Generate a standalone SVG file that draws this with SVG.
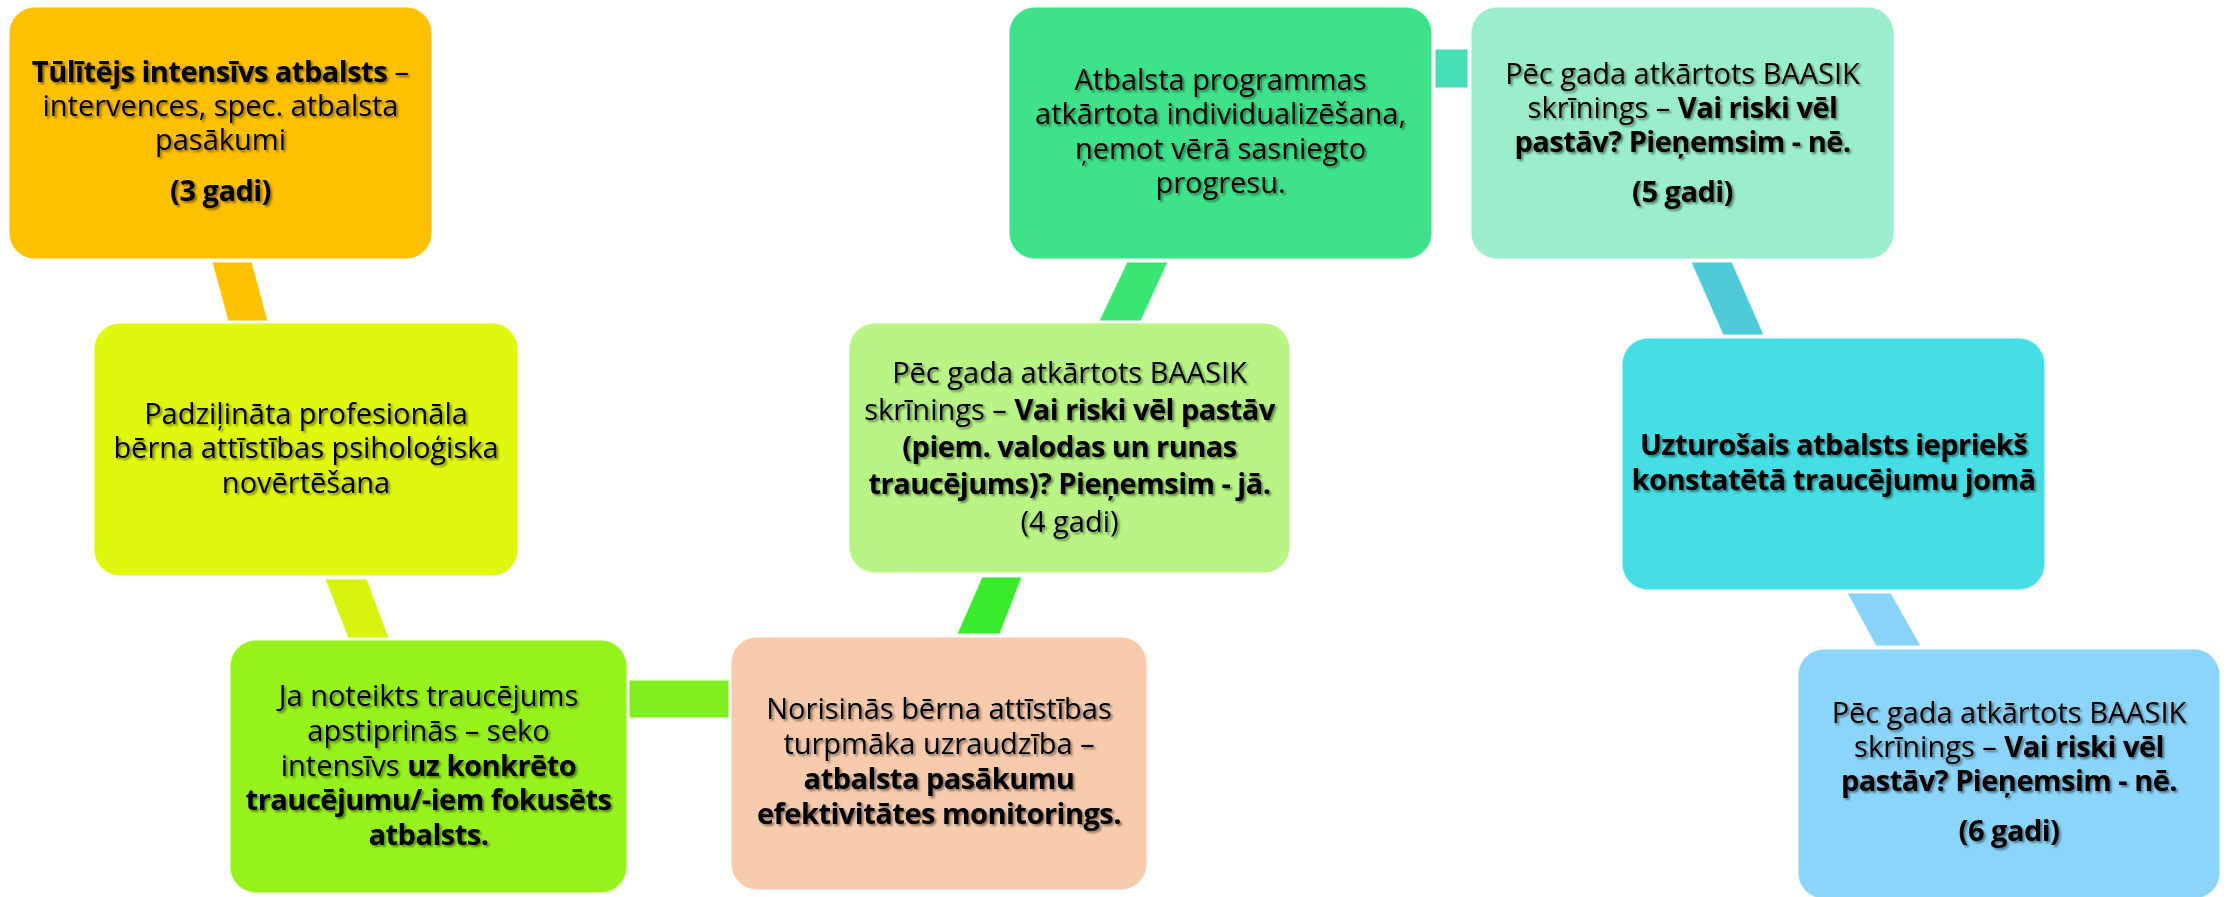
<svg xmlns="http://www.w3.org/2000/svg" width="2232" height="897" viewBox="0 0 2232 897">
<defs>
<filter id="ts" x="-5%" y="-20%" width="110%" height="140%">
<feDropShadow dx="2" dy="2" stdDeviation="1.2" flood-color="#000" flood-opacity="0.45"/>
</filter>
</defs>
<style>
.box{stroke:#ffffff;stroke-opacity:0.6;stroke-width:1.5}
.con{stroke:#ffffff;stroke-opacity:0.6;stroke-width:1.5}
text{font-family:"Open Sans","Noto Sans","DejaVu Sans",sans-serif;font-size:29px;fill:#000;text-anchor:middle;filter:url(#ts)}
.b{font-weight:bold;letter-spacing:-0.5px}
</style>
<rect width="2232" height="897" fill="#ffffff"/>
<g id="connectors">
<polygon class="con" points="212,262 252,262 268,321 228,321" fill="#FFC000"/>
<polygon class="con" points="325,579 367,579 389,638 348,638" fill="#D6F40E"/>
<rect class="con" x="629" y="680" width="100" height="38" fill="#82F020"/>
<polygon class="con" points="982,577 1022,577 1000,634 957,634" fill="#3AEB2D"/>
<polygon class="con" points="1127,262 1168,262 1141,321 1099,321" fill="#3AE672"/>
<rect class="con" x="1435" y="49" width="33" height="39" fill="#48DEB5"/>
<polygon class="con" points="1691,262 1732,262 1764,335 1723,335" fill="#4ECAD9"/>
<polygon class="con" points="1847,593 1891,593 1921,646 1876,646" fill="#88D4F8"/>
</g>
<g id="node1">
<rect class="box" x="9" y="7" width="423" height="252" rx="26" fill="#FFC000"/>
<text x="220.5" y="82"><tspan class="b">Tūlītējs intensīvs atbalsts</tspan> –</text>
<text x="220.5" y="116">intervences, spec. atbalsta</text>
<text x="220.5" y="150">pasākumi</text>
<text x="220.5" y="201" class="b">(3 gadi)</text>
</g>
<g id="node2">
<rect class="box" x="94" y="323" width="424" height="253" rx="26" fill="#E0F70E"/>
<text x="306" y="424">Padziļināta profesionāla</text>
<text x="306" y="458">bērna attīstības psiholoģiska</text>
<text x="306" y="493">novērtēšana</text>
</g>
<g id="node3">
<rect class="box" x="230" y="640" width="397" height="253" rx="26" fill="#96F21C"/>
<text x="428.5" y="706">Ja noteikts traucējums</text>
<text x="428.5" y="741">apstiprinās – seko</text>
<text x="428.5" y="776">intensīvs <tspan class="b">uz konkrēto</tspan></text>
<text x="428.5" y="810" class="b">traucējumu/-iem fokusēts</text>
<text x="428.5" y="845" class="b">atbalsts.</text>
</g>
<g id="node4">
<rect class="box" x="731" y="637" width="416" height="253" rx="26" fill="#F7CBAC"/>
<text x="939" y="719">Norisinās bērna attīstības</text>
<text x="939" y="754">turpmāka uzraudzība –</text>
<text x="939" y="789" class="b">atbalsta pasākumu</text>
<text x="939" y="824" class="b">efektivitātes monitorings.</text>
</g>
<g id="node5">
<rect class="box" x="849" y="323" width="441" height="250" rx="26" fill="#B8F584"/>
<text x="1069.5" y="383">Pēc gada atkārtots BAASIK</text>
<text x="1069.5" y="420">skrīnings – <tspan class="b">Vai riski vēl pastāv</tspan></text>
<text x="1069.5" y="457" class="b">(piem. valodas un runas</text>
<text x="1069.5" y="494" class="b">traucējums)? Pieņemsim - jā.</text>
<text x="1069.5" y="532">(4 gadi)</text>
</g>
<g id="node6">
<rect class="box" x="1009" y="7" width="423" height="252" rx="26" fill="#3EE28A"/>
<text x="1220.5" y="90">Atbalsta programmas</text>
<text x="1220.5" y="124">atkārtota individualizēšana,</text>
<text x="1220.5" y="159">ņemot vērā sasniegto</text>
<text x="1220.5" y="193">progresu.</text>
</g>
<g id="node7">
<rect class="box" x="1471" y="7" width="423" height="252" rx="26" fill="#9AEECC"/>
<text x="1682.5" y="84">Pēc gada atkārtots BAASIK</text>
<text x="1682.5" y="118">skrīnings – <tspan class="b">Vai riski vēl</tspan></text>
<text x="1682.5" y="152" class="b">pastāv? Pieņemsim - nē.</text>
<text x="1682.5" y="202" class="b">(5 gadi)</text>
</g>
<g id="node8">
<rect class="box" x="1622" y="338" width="423" height="252" rx="26" fill="#46DEE5"/>
<text x="1833.5" y="455" class="b">Uzturošais atbalsts iepriekš</text>
<text x="1833.5" y="490" class="b">konstatētā traucējumu jomā</text>
</g>
<g id="node9">
<rect class="box" x="1798" y="649" width="422" height="250" rx="26" fill="#8AD5F9"/>
<text x="2009" y="723">Pēc gada atkārtots BAASIK</text>
<text x="2009" y="757">skrīnings – <tspan class="b">Vai riski vēl</tspan></text>
<text x="2009" y="791" class="b">pastāv? Pieņemsim - nē.</text>
<text x="2009" y="841" class="b">(6 gadi)</text>
</g>
</svg>
